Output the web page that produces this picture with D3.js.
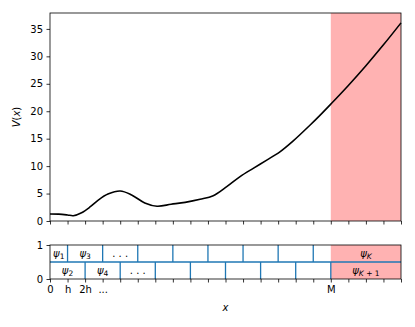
<!DOCTYPE html>
<html><head><meta charset="utf-8">
<script src="https://cdn.jsdelivr.net/npm/d3@7"></script>
<style>
body{margin:0;background:#fff;}
text{font-family:"DejaVu Sans",sans-serif;}
</style></head>
<body><svg id="c" width="415" height="327"></svg>
<script>
const xs = [0, 0.5, 1, 1.33, 1.8, 2.3, 2.75, 3.3, 4.0, 4.65, 5.4, 6.1, 6.9, 7.7, 8.55, 9.3, 10.07, 10.83, 11.58, 12.35, 13.1, 13.86, 14.81, 15.38, 16, 17, 18, 19, 20];
const vs = [1.28, 1.25, 1.1, 0.97, 1.5, 2.6, 3.8, 4.9, 5.47, 4.75, 3.3, 2.7, 3.05, 3.4, 3.95, 4.6, 6.25, 8.1, 9.6, 11.1, 12.6, 14.6, 17.45, 19.25, 21.3, 24.7, 28.3, 32.1, 36.1];
const yTicks = [0, 5, 10, 15, 20, 25, 30, 35];
const xTickVals = d3.range(0, 21);
const xTickLabels = {0: "0", 1: "h", 2: "2h", 3: "...", 16: "M"};
const M = 16, X_MAX = 20;
const topRowEdges = [1, 3, 5, 7, 9, 11, 13, 15];
const botRowEdges = [2, 4, 6, 8, 10, 12, 14, 16];
const topLabels = [{x: 0.5, t: "ψ", s: "1"}, {x: 2, t: "ψ", s: "3"}, {x: 4, t: "...", s: ""}, {x: 18, t: "ψ", s: "K"}];
const botLabels = [{x: 1, t: "ψ", s: "2"}, {x: 3, t: "ψ", s: "4"}, {x: 5, t: "...", s: ""}, {x: 18, t: "ψ", s: "K+1"}];

const svg = d3.select("#c");
const L = 50, R = 401, T1 = 13, B1 = 221, T2 = 245, B2 = 279;
const x = d3.scaleLinear().domain([0, X_MAX]).range([L, R]);
const y = d3.scaleLinear().domain([0, 37.9]).range([B1, T1]);
const y2 = d3.scaleLinear().domain([0, 1]).range([B2, T2]);
const BLUE = "#1f77b4", SHADE = "rgba(255,0,0,0.3)";

// top panel
svg.append("rect").attr("x", x(M)).attr("y", T1).attr("width", x(X_MAX) - x(M)).attr("height", B1 - T1).attr("fill", SHADE);
const line = d3.line().x((d, i) => x(xs[i])).y(d => y(d)).curve(d3.curveCatmullRom.alpha(0.5));
svg.append("path").datum(vs).attr("d", line).attr("fill", "none").attr("stroke", "#000").attr("stroke-width", 1.6);

svg.append("g").attr("transform", `translate(0,${B1})`).call(d3.axisBottom(x).tickValues(xTickVals).tickSize(3.5).tickFormat(""));
svg.append("g").attr("transform", `translate(${L},0)`).call(d3.axisLeft(y).tickValues(yTicks).tickSize(3.5).tickPadding(3.5));
svg.append("rect").attr("x", L).attr("y", T1).attr("width", R - L).attr("height", B1 - T1).attr("fill", "none").attr("stroke", "#000").attr("stroke-width", 0.8);

// bottom panel
svg.append("rect").attr("x", x(M)).attr("y", T2).attr("width", x(X_MAX) - x(M)).attr("height", B2 - T2).attr("fill", SHADE);
svg.append("line").attr("x1", L).attr("x2", R).attr("y1", y2(0.5)).attr("y2", y2(0.5)).attr("stroke", BLUE).attr("stroke-width", 1.3);
svg.selectAll(".tv").data(topRowEdges).enter().append("line").attr("x1", d => x(d)).attr("x2", d => x(d)).attr("y1", y2(1)).attr("y2", y2(0.5)).attr("stroke", BLUE).attr("stroke-width", 1.3);
svg.selectAll(".bv").data(botRowEdges).enter().append("line").attr("x1", d => x(d)).attr("x2", d => x(d)).attr("y1", y2(0.5)).attr("y2", y2(0)).attr("stroke", BLUE).attr("stroke-width", 1.3);

function lab(sel, arr, yc) {
  arr.forEach(d => {
    const t = sel.append("text").attr("x", x(d.x)).attr("y", yc).attr("text-anchor", "middle").attr("font-size", 10).attr("fill", "#000");
    if (d.s === "") {
      t.text(". . .").attr("font-size", 10);
    } else {
      t.append("tspan").attr("font-style", "italic").text(d.t);
      if (d.s === "K+1") {
        t.append("tspan").attr("font-size", 7.5).attr("dy", 2.5).attr("font-style", "italic").text("K");
        t.append("tspan").attr("font-size", 7.5).text(" + 1");
      } else if (d.s === "K") {
        t.append("tspan").attr("font-size", 7.5).attr("dy", 2.5).attr("font-style", "italic").text("K");
      } else {
        t.append("tspan").attr("font-size", 7.5).attr("dy", 2.5).text(d.s);
      }
    }
  });
}
lab(svg, topLabels, y2(0.75) + 3);
lab(svg, botLabels, y2(0.25) + 3);

svg.append("g").attr("transform", `translate(0,${B2})`).call(d3.axisBottom(x).tickValues(xTickVals).tickSize(3.5).tickPadding(3.5).tickFormat(d => xTickLabels[d] || ""));
svg.append("g").attr("transform", `translate(${L},0)`).call(d3.axisLeft(y2).tickValues([0, 1]).tickSize(3.5).tickPadding(3.5).tickFormat(d3.format("d")));
svg.append("rect").attr("x", L).attr("y", T2).attr("width", R - L).attr("height", B2 - T2).attr("fill", "none").attr("stroke", "#000").attr("stroke-width", 0.8);

svg.selectAll(".domain").remove();
svg.selectAll(".tick line").attr("stroke", "#000").attr("stroke-width", 0.8);
svg.selectAll(".tick text").attr("font-size", 10).attr("font-family", "DejaVu Sans").attr("fill", "#000");

// axis labels
const yl = svg.append("text").attr("transform", `translate(20,${(T1 + B1) / 2}) rotate(-90)`).attr("text-anchor", "middle").attr("font-size", 10);
yl.append("tspan").attr("font-style", "italic").text("V");
yl.append("tspan").text("(");
yl.append("tspan").attr("font-style", "italic").text("x");
yl.append("tspan").text(")");
svg.append("text").attr("x", (L + R) / 2).attr("y", 311).attr("text-anchor", "middle").attr("font-size", 10).attr("font-style", "italic").text("x");
</script></body></html>
